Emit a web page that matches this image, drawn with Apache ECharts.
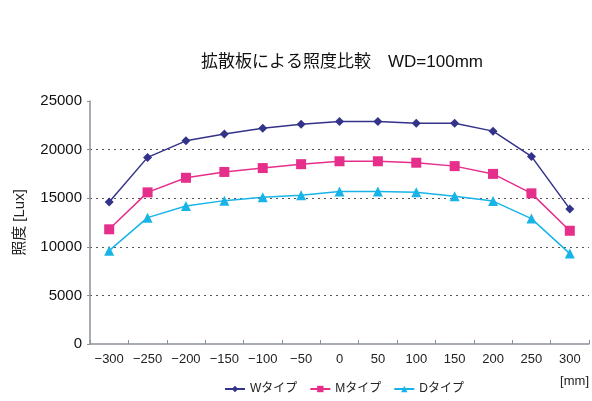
<!DOCTYPE html>
<html><head><meta charset="utf-8">
<script src="https://cdn.jsdelivr.net/npm/echarts@6/dist/echarts.min.js"></script>
<style>html,body{margin:0;padding:0;background:#fff}#c{width:592px;height:401px}</style>
</head><body><div id="c"></div>
<script>
const categories = ['-300','-250','-200','-150','-100','-50','0','50','100','150','200','250','300'];
const wType = [14600,19200,20900,21600,22200,22600,22900,22900,22700,22700,21900,19300,13900];
const mType = [11800,15600,17100,17700,18100,18500,18800,18800,18650,18300,17500,15500,11650];
const dType = [9600,13000,14200,14750,15100,15300,15700,15700,15600,15200,14700,12900,9300];
const yTicks = [0,5000,10000,15000,20000,25000];
const FONT = '"Liberation Sans","Noto Sans CJK JP",sans-serif';
const chart = echarts.init(document.getElementById('c'));
chart.setOption({
  animation:false,
  title:{text:'拡散板による照度比較　WD=100mm',left:337,textAlign:'center',top:49,
    textStyle:{fontFamily:FONT,fontSize:17,fontWeight:'normal',color:'#111'}},
  grid:{left:90,top:101,width:502,bottom:57,containLabel:false},
  legend:{bottom:1,left:219,itemWidth:20,itemHeight:8,itemGap:12,
    textStyle:{fontFamily:FONT,fontSize:12,color:'#222'},
    data:['Wタイプ','Mタイプ','Dタイプ']},
  xAxis:{type:'category',data:categories,boundaryGap:true,
    name:'[mm]',nameLocation:'end',nameGap:0,
    nameTextStyle:{fontFamily:FONT,fontSize:13,color:'#222',align:'right',verticalAlign:'top',padding:[31,0,0,0]},
    axisLine:{lineStyle:{color:'#8a9099',width:1.5}},
    axisTick:{show:true,inside:true,length:4,lineStyle:{color:'#8a9099'}},
    axisLabel:{fontFamily:FONT,fontSize:13,color:'#222',margin:9,
      formatter:v=>v.replace('-','−')}},
  yAxis:{type:'value',min:0,max:25000,interval:5000,
    name:'照度 [Lux]',nameLocation:'middle',nameGap:63,nameRotate:90,
    nameTextStyle:{fontFamily:FONT,fontSize:15,color:'#222'},
    axisLine:{show:true,lineStyle:{color:'#8a9099',width:1.5}},
    axisTick:{show:true,length:3,lineStyle:{color:'#8a9099'}},
    axisLabel:{fontFamily:FONT,fontSize:15,color:'#111',margin:8,
      formatter:v=>yTicks.includes(v)?String(v):''},
    splitLine:{show:true,lineStyle:{color:'#555',type:[2,4],width:1.2},
      showMinLine:false,showMaxLine:false}},
  series:[
    {name:'Wタイプ',type:'line',data:wType,symbol:'diamond',symbolSize:9,
      itemStyle:{color:'#33338a'},lineStyle:{width:1.5,color:'#33338a'}},
    {name:'Mタイプ',type:'line',data:mType,symbol:'rect',symbolSize:10,
      itemStyle:{color:'#e62e8b'},lineStyle:{width:1.5,color:'#e62e8b'}},
    {name:'Dタイプ',type:'line',data:dType,symbol:'triangle',symbolSize:10,
      itemStyle:{color:'#18b4e8'},lineStyle:{width:1.5,color:'#18b4e8'}}
  ]
});
</script></body></html>
